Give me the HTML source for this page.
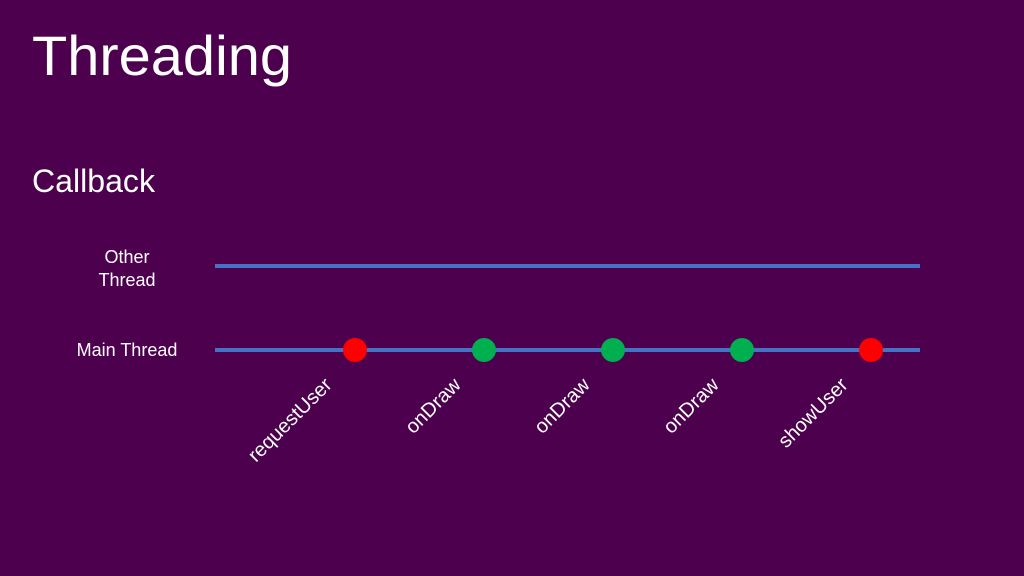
<!DOCTYPE html>
<html><head><meta charset="utf-8"><style>
html,body{margin:0;padding:0;background:#4d004d;}
svg{display:block;font-family:"Liberation Sans",sans-serif;}
</style></head><body>
<svg id="s" width="1024" height="576" viewBox="0 0 1024 576">
<rect width="1024" height="576" fill="#4d004d"/>
<text x="32" y="75" font-size="56" fill="#fff" textLength="260" lengthAdjust="spacingAndGlyphs">Threading</text>
<text x="32" y="192" font-size="32" fill="#fff" textLength="123" lengthAdjust="spacingAndGlyphs">Callback</text>
<text x="127" y="263" font-size="18" fill="#fff" text-anchor="middle">Other</text>
<text x="127" y="286" font-size="18" fill="#fff" text-anchor="middle">Thread</text>
<text x="127" y="356" font-size="18" fill="#fff" text-anchor="middle">Main Thread</text>
<line x1="215" y1="266" x2="920" y2="266" stroke="#4472c4" stroke-width="4"/>
<line x1="215" y1="350" x2="920" y2="350" stroke="#4472c4" stroke-width="4"/>
<g id="marks"></g>
</svg>
<script>
const events = ["requestUser","onDraw","onDraw","onDraw","showUser"];
const eventColors = ["#ff0000","#00b050","#00b050","#00b050","#ff0000"];
const eventSteps = [0,1,2,3,4];
function xScale(i){ return 355 + i*129; }
const yMain = 350;
const g = document.getElementById('marks');
const NS = "http://www.w3.org/2000/svg";
events.forEach((name,i)=>{
  const x = xScale(eventSteps[i]);
  const c = document.createElementNS(NS,'circle');
  c.setAttribute('cx',x); c.setAttribute('cy',yMain); c.setAttribute('r',12);
  c.setAttribute('fill',eventColors[i]);
  
  
  g.appendChild(c);
  const t = document.createElementNS(NS,'text');
  const tx = x-22, ty = yMain+36;
  t.setAttribute('x',tx); t.setAttribute('y',ty);
  t.setAttribute('text-anchor','end');
  t.setAttribute('font-size','20');
  t.setAttribute('fill','#fff');
  t.setAttribute('transform','rotate(-45 '+tx+' '+ty+')');
  t.textContent = name;
  
  
  g.appendChild(t);
});
</script>
</body></html>
